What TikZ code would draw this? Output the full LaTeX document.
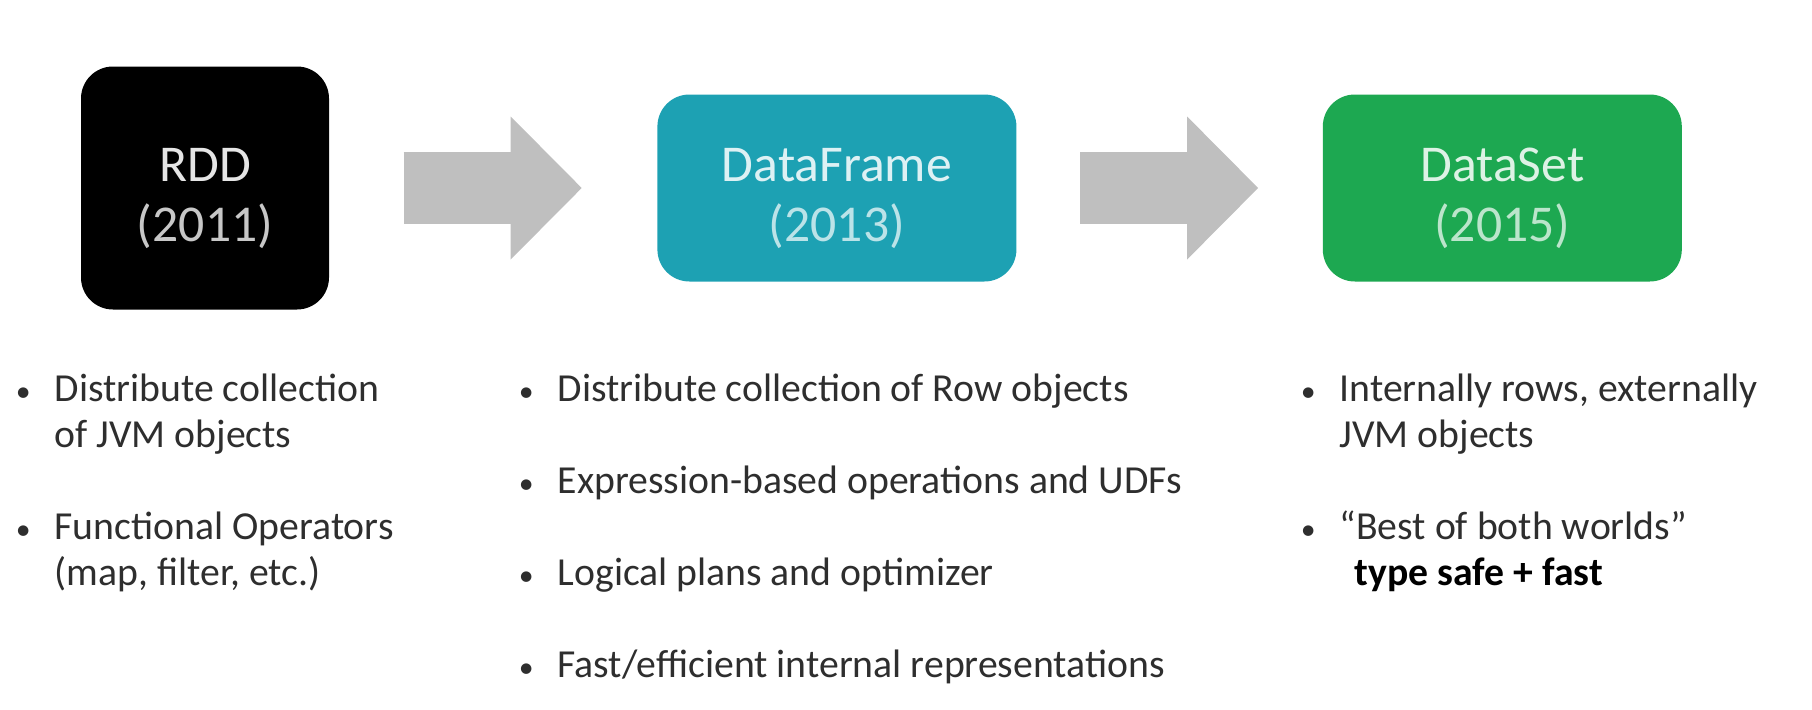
\documentclass[tikz,border=0pt]{standalone}
\usepackage{fontspec}
\setmainfont{Carlito}
\usetikzlibrary{positioning, arrows.meta}
\definecolor{rddBlack}{HTML}{000000}
\definecolor{dfTeal}{HTML}{1DA1B3}
\definecolor{dsGreen}{HTML}{1DA851}
\definecolor{arrowGrey}{HTML}{BFBFBF}
\definecolor{textGrey}{HTML}{2E2E2E}
\newcommand{\bul}{\llap{\scalebox{0.75}{\textbullet}\hspace{0.24cm}}}

\begin{document}
\begin{tikzpicture}[font=\fontsize{11.3}{13}\selectfont, node distance=0.45cm,
    era/.style={rounded corners=0.32cm, minimum width=3.59cm, minimum height=1.87cm,
                align=center, text height=30.5pt, text depth=0pt,
                font=\fontsize{14.7}{17}\selectfont},
    point/.style={anchor=north west, inner sep=0pt, align=left, text=textGrey},
    jump/.style={line width=0.72cm, arrowGrey,
                 -{Triangle[length=0.71cm, width=1.43cm, line width=0pt]}}]
    \useasboundingbox (0,0) rectangle (18.12,-7.10);
    % the three abstractions
    \node[era, fill=rddBlack, text=white!90!black, minimum width=2.48cm,
          minimum height=2.43cm] (rdd) at (2.05,-1.88)
      {RDD\\\textcolor{white!78!black}{(2011)}};
    \node[era, fill=dfTeal, text=dfTeal!15, right=3.27cm of rdd] (df)
      {DataFrame\\\textcolor{dfTeal!30}{(2013)}};
    \node[era, fill=dsGreen, text=dsGreen!15, right=3.05cm of df] (ds)
      {DataSet\\\textcolor{dsGreen!30}{(2015)}};
    \draw[jump, shorten <=0.74cm, shorten >=0.75cm] (rdd) -- (df);
    \draw[jump, shorten <=0.63cm, shorten >=0.64cm] (df) -- (ds);
    % bullet points
    \node[point] (rdd1) at (0.54,-3.69)
      {\bul Distribute collection\strut\\of JVM objects\strut};
    \node[point, below=of rdd1.south west, anchor=north west] (rdd2)
      {\bul Functional Operators\strut\\(map, filter, etc.)\strut};
    \node[point] (df1) at (5.57,-3.69)
      {\bul Distribute collection of Row objects\strut};
    \node[point, below=of df1.south west, anchor=north west] (df2)
      {\bul Expression-based operations and UDFs\strut};
    \node[point, below=of df2.south west, anchor=north west] (df3)
      {\bul Logical plans and optimizer\strut};
    \node[point, below=of df3.south west, anchor=north west] (df4)
      {\bul Fast/efficient internal representations\strut};
    \node[point] (ds1) at (13.39,-3.69)
      {\bul Internally rows, externally\strut\\JVM objects\strut};
    \node[point, below=of ds1.south west, anchor=north west] (ds2)
      {\bul “Best of both worlds”\strut\\\hspace*{0.15cm}\textcolor{black}{\textbf{type safe + fast}}\strut};
\end{tikzpicture}
\end{document}
